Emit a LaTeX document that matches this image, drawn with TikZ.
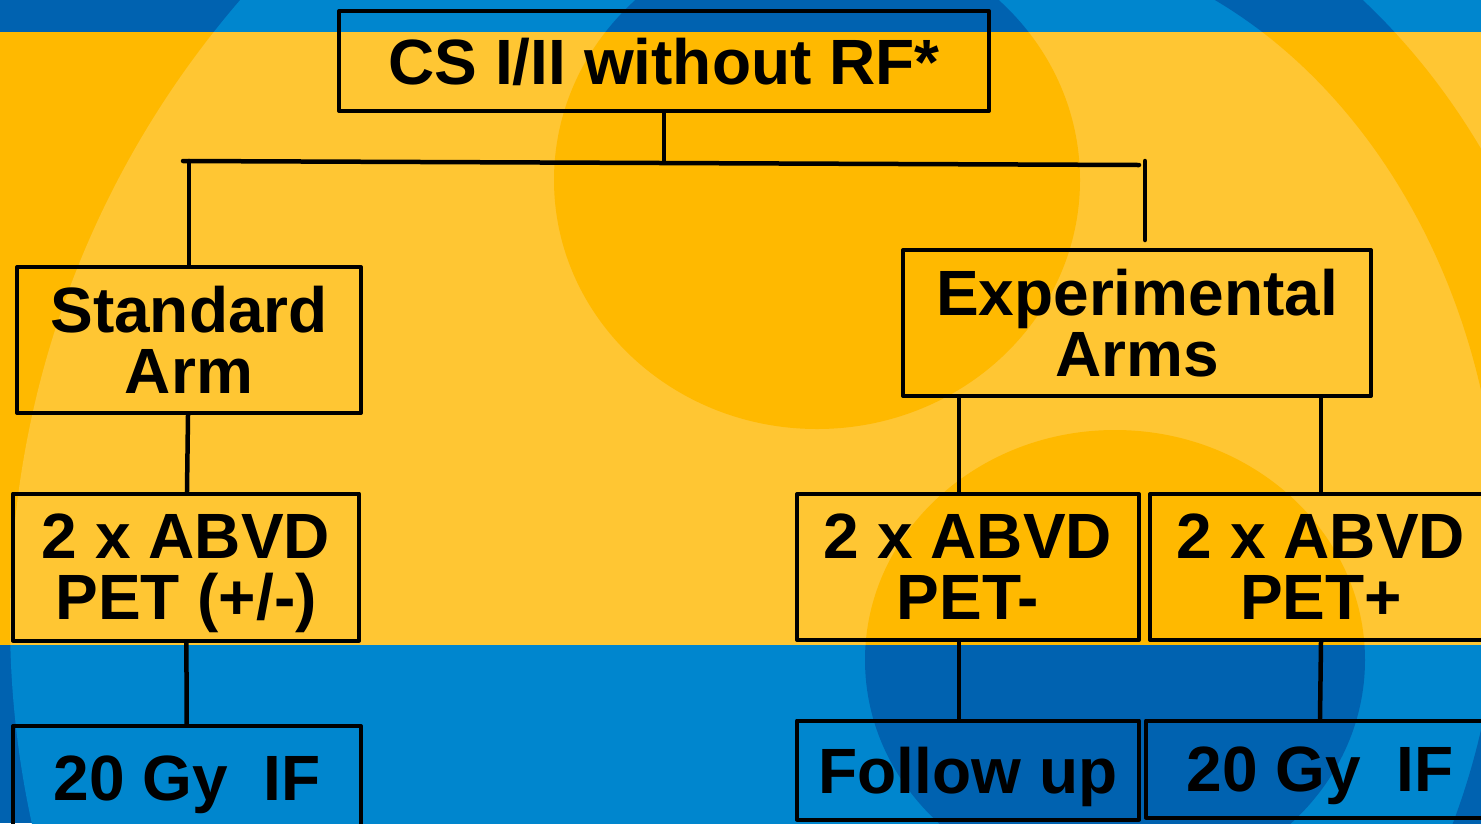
\documentclass[tikz,border=0pt]{standalone}
\usepackage{fontspec}
\setmainfont{Liberation Sans}

\definecolor{sunlight}{RGB}{255,198,51}
\definecolor{sundark}{RGB}{255,185,0}
\definecolor{sealight}{RGB}{0,134,206}
\definecolor{seadark}{RGB}{0,98,176}

% Background ripples: #1 light colour, #2 dark colour
\newcommand{\ripples}[2]{%
  \fill[#2] (0,0) rectangle (1481,823);
  \fill[#1] (960,620) circle (950pt);
  \begin{scope}
    \clip (1000,0) rectangle (1600,900);
    \fill[#2, even odd rule] (1000,560) ellipse [x radius=590pt, y radius=710pt]
                             (1000,560) ellipse [x radius=500pt, y radius=620pt];
  \end{scope}
  \fill[#2] (817,180) ellipse [x radius=263pt, y radius=249pt];
  \fill[#2] (1115,660) ellipse [x radius=250pt, y radius=230pt];
}

\begin{document}
\begin{tikzpicture}[x=1pt, y=-1pt, line cap=round, line join=round,
  arm/.style={draw, line width=4pt, align=center, inner sep=0pt, text depth=0pt,
    font=\fontsize{64}{61}\selectfont\bfseries},
  link/.style={line width=4.5pt}]

\useasboundingbox (0,0) rectangle (1481,823);

% Background bands
\begin{scope}
  \clip (0,0) rectangle (1481,32);
  \ripples{sealight}{seadark}
\end{scope}
\begin{scope}
  \clip (0,32) rectangle (1481,645);
  \ripples{sunlight}{sundark}
\end{scope}
\begin{scope}
  \clip (0,645) rectangle (1481,823);
  \ripples{sealight}{seadark}
\end{scope}

% Boxes
\node[arm, minimum width=650pt, minimum height=100pt] (cs) at (664,61) {CS I/II without RF*};
\node[arm, minimum width=344pt, minimum height=146pt] (std) at (189,340) {Standard\\Arm};
\node[arm, minimum width=468pt, minimum height=146pt] (exp) at (1137,323) {Experimental\\Arms};
\node[arm, minimum width=346pt, minimum height=147pt] (stdabvd) at (186,567) {2 x ABVD\\PET (+/-)};
\node[arm, minimum width=342pt, minimum height=146pt] (negabvd) at (968,567) {2 x ABVD\\PET-};
\node[arm, minimum width=342pt, minimum height=146pt] (posabvd) at (1321,567) {2 x ABVD\\PET+};
\node[arm, minimum width=348pt, minimum height=104pt] (stdrt) at (187,778) {20 Gy\ \ IF};
\node[arm, minimum width=342pt, minimum height=99pt] (follow) at (968,770) {Follow up};
\node[arm, minimum width=348pt, minimum height=97pt] (posrt) at (1320,769) {20 Gy\ \ IF};

% Split points
\coordinate (splitL) at (183,161);
\coordinate (splitR) at (1139,165);
\coordinate (splitT) at (1145,161);

% Segments
\draw[link] (splitL) -- (splitR);
\draw[link] (cs.south) -- (cs.south |- splitL);
\draw[link] (std.north) -- (std.north |- splitL);
\draw[link, shorten >=8pt] (splitT) -- (splitT |- exp.north);
\draw[link] (std) -- (stdabvd);
\draw[link] (stdabvd) -- (stdrt);
\draw[link] ([xshift=-9pt]negabvd.north |- exp.south) -- ([xshift=-9pt]negabvd.north);
\draw[link] ([xshift=-9pt]negabvd.south) -- ([xshift=-9pt]follow.north);
\draw[link] (posabvd.north |- exp.south) -- (posabvd.north);
\draw[link] (posabvd.south) -- (posrt.north);

\end{tikzpicture}
\end{document}
